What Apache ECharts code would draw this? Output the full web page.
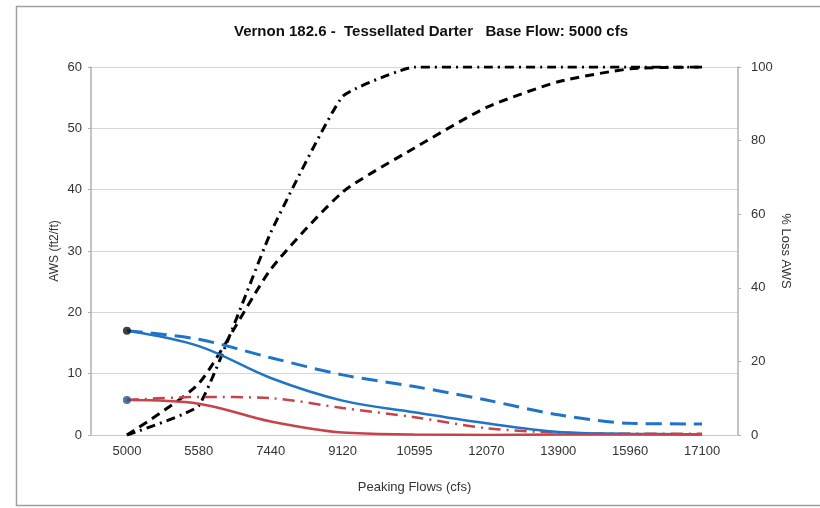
<!DOCTYPE html>
<html>
<head>
<meta charset="utf-8">
<script src="https://cdn.jsdelivr.net/npm/echarts@6/dist/echarts.min.js"></script>
<style>html,body{margin:0;padding:0;background:#fff}#c{width:820px;height:508px}</style>
</head>
<body>
<div id="c"></div>
<script>
const categories = ['5000','5580','7440','9120','10595','12070','13900','15960','17100'];
const leftTicks = [0,10,20,30,40,50,60];
const rightTicks = [0,20,40,60,80,100];
const blueSolid = [17.0, 14.5, 9.3, 5.6, 3.7, 1.9, 0.5, 0.2, 0.1];
const blueDashed = [17.0, 15.6, 12.6, 9.8, 7.9, 5.7, 3.3, 1.9, 1.8];
const redSolid = [5.7, 5.1, 2.2, 0.4, 0.1, 0.0, 0.1, 0.1, 0.1];
const redDashDot = [5.7, 6.2, 6.0, 4.4, 2.9, 1.1, 0.4, 0.2, 0.2];
const lossDashDot = [0, 8, 55, 92, 100, 100, 100, 100, 100];
const lossDashed = [0, 14, 45, 66, 78, 89, 96, 99.5, 100];

const FONT = '"Liberation Sans Narrow","Arial Narrow","Liberation Sans",Arial,sans-serif';
const BLUE = '#1f74c6';
const RED = '#c7434c';
const chart = echarts.init(document.getElementById('c'), null, {renderer:'canvas'});
chart.setOption({
  animation:false,
  backgroundColor:'#fff',
  graphic:[{type:'rect', shape:{x:16.5,y:6.5,width:820,height:499}, style:{fill:'none',stroke:'#a0a0a0',lineWidth:1.5}, silent:true}],
  title:{text:'Vernon 182.6 -  Tessellated Darter   Base Flow: 5000 cfs', left:426, top:19, textAlign:'center',
    textStyle:{fontFamily:FONT,fontSize:15,fontWeight:'bold',color:'#111'}},
  grid:{left:91,right:82,top:67,bottom:73},
  xAxis:{type:'category',data:categories,boundaryGap:true,
    name:'Peaking Flows (cfs)',nameLocation:'middle',nameGap:46,
    nameTextStyle:{fontFamily:FONT,fontSize:13,color:'#333'},
    axisLine:{show:true,lineStyle:{color:'#c8c8c8',width:1}},
    axisTick:{show:false},
    axisLabel:{fontFamily:FONT,fontSize:13,color:'#333',margin:10}},
  yAxis:[
    {type:'value',min:0,max:60,interval:10,position:'left',
     name:'AWS (ft2/ft)',nameLocation:'middle',nameGap:30,nameRotate:90,nameMoveOverlap:false,
     nameTextStyle:{fontFamily:FONT,fontSize:12,color:'#333'},
     axisLine:{show:true,lineStyle:{color:'#b0b0b0',width:1.5}},
     axisTick:{show:true,length:3,inside:false,lineStyle:{color:'#b0b0b0'}},
     axisLabel:{fontFamily:FONT,fontSize:13,color:'#333',margin:9,
       formatter:v=>leftTicks.includes(v)?String(v):''},
     splitLine:{show:true,lineStyle:{color:'#d6d6d6',width:1.2}}},
    {type:'value',min:0,max:100,interval:20,position:'right',
     name:'% Loss AWS',nameLocation:'middle',nameGap:41,nameRotate:-90,nameMoveOverlap:false,
     nameTextStyle:{fontFamily:FONT,fontSize:13,color:'#333'},
     axisLine:{show:true,lineStyle:{color:'#b0b0b0',width:1.5}},
     axisTick:{show:true,length:3,inside:false,lineStyle:{color:'#b0b0b0'}},
     axisLabel:{fontFamily:FONT,fontSize:13,color:'#333',margin:13,
       formatter:v=>rightTicks.includes(v)?String(v):''},
     splitLine:{show:false}}
  ],
  series:[
    {type:'line',name:'lossDashed',yAxisIndex:1,data:lossDashed,smooth:0.2,symbol:'none',
     lineStyle:{color:'#000',width:3,type:[9,6]},z:3},
    {type:'line',name:'lossDashDot',yAxisIndex:1,data:lossDashDot,smooth:0.12,symbol:'none',
     lineStyle:{color:'#000',width:3,type:[9,5,2,5]},z:3},
    {type:'line',name:'blueDashed',yAxisIndex:0,data:blueDashed,smooth:0.3,symbol:'none',
     lineStyle:{color:BLUE,width:3,type:[16,8]},z:4},
    {type:'line',name:'redDashDot',yAxisIndex:0,data:redDashDot,smooth:0.3,symbol:'none',
     lineStyle:{color:RED,width:2.5,type:[12,6,2,6]},z:4},
    {type:'line',name:'blueSolid',yAxisIndex:0,data:blueSolid,smooth:0.35,symbol:'none',
     lineStyle:{color:BLUE,width:2.5},z:5},
    {type:'line',name:'redSolid',yAxisIndex:0,data:redSolid,smooth:0.35,symbol:'none',
     lineStyle:{color:RED,width:2.5},z:5},
    {type:'scatter',yAxisIndex:0,data:[[0,blueSolid[0]]],symbol:'circle',symbolSize:8,
     itemStyle:{color:'#111'},z:6},
    {type:'scatter',yAxisIndex:0,data:[[0,redSolid[0]]],symbol:'circle',symbolSize:8,
     itemStyle:{color:'#2c4f86'},z:6}
  ]
});
</script>
</body>
</html>
